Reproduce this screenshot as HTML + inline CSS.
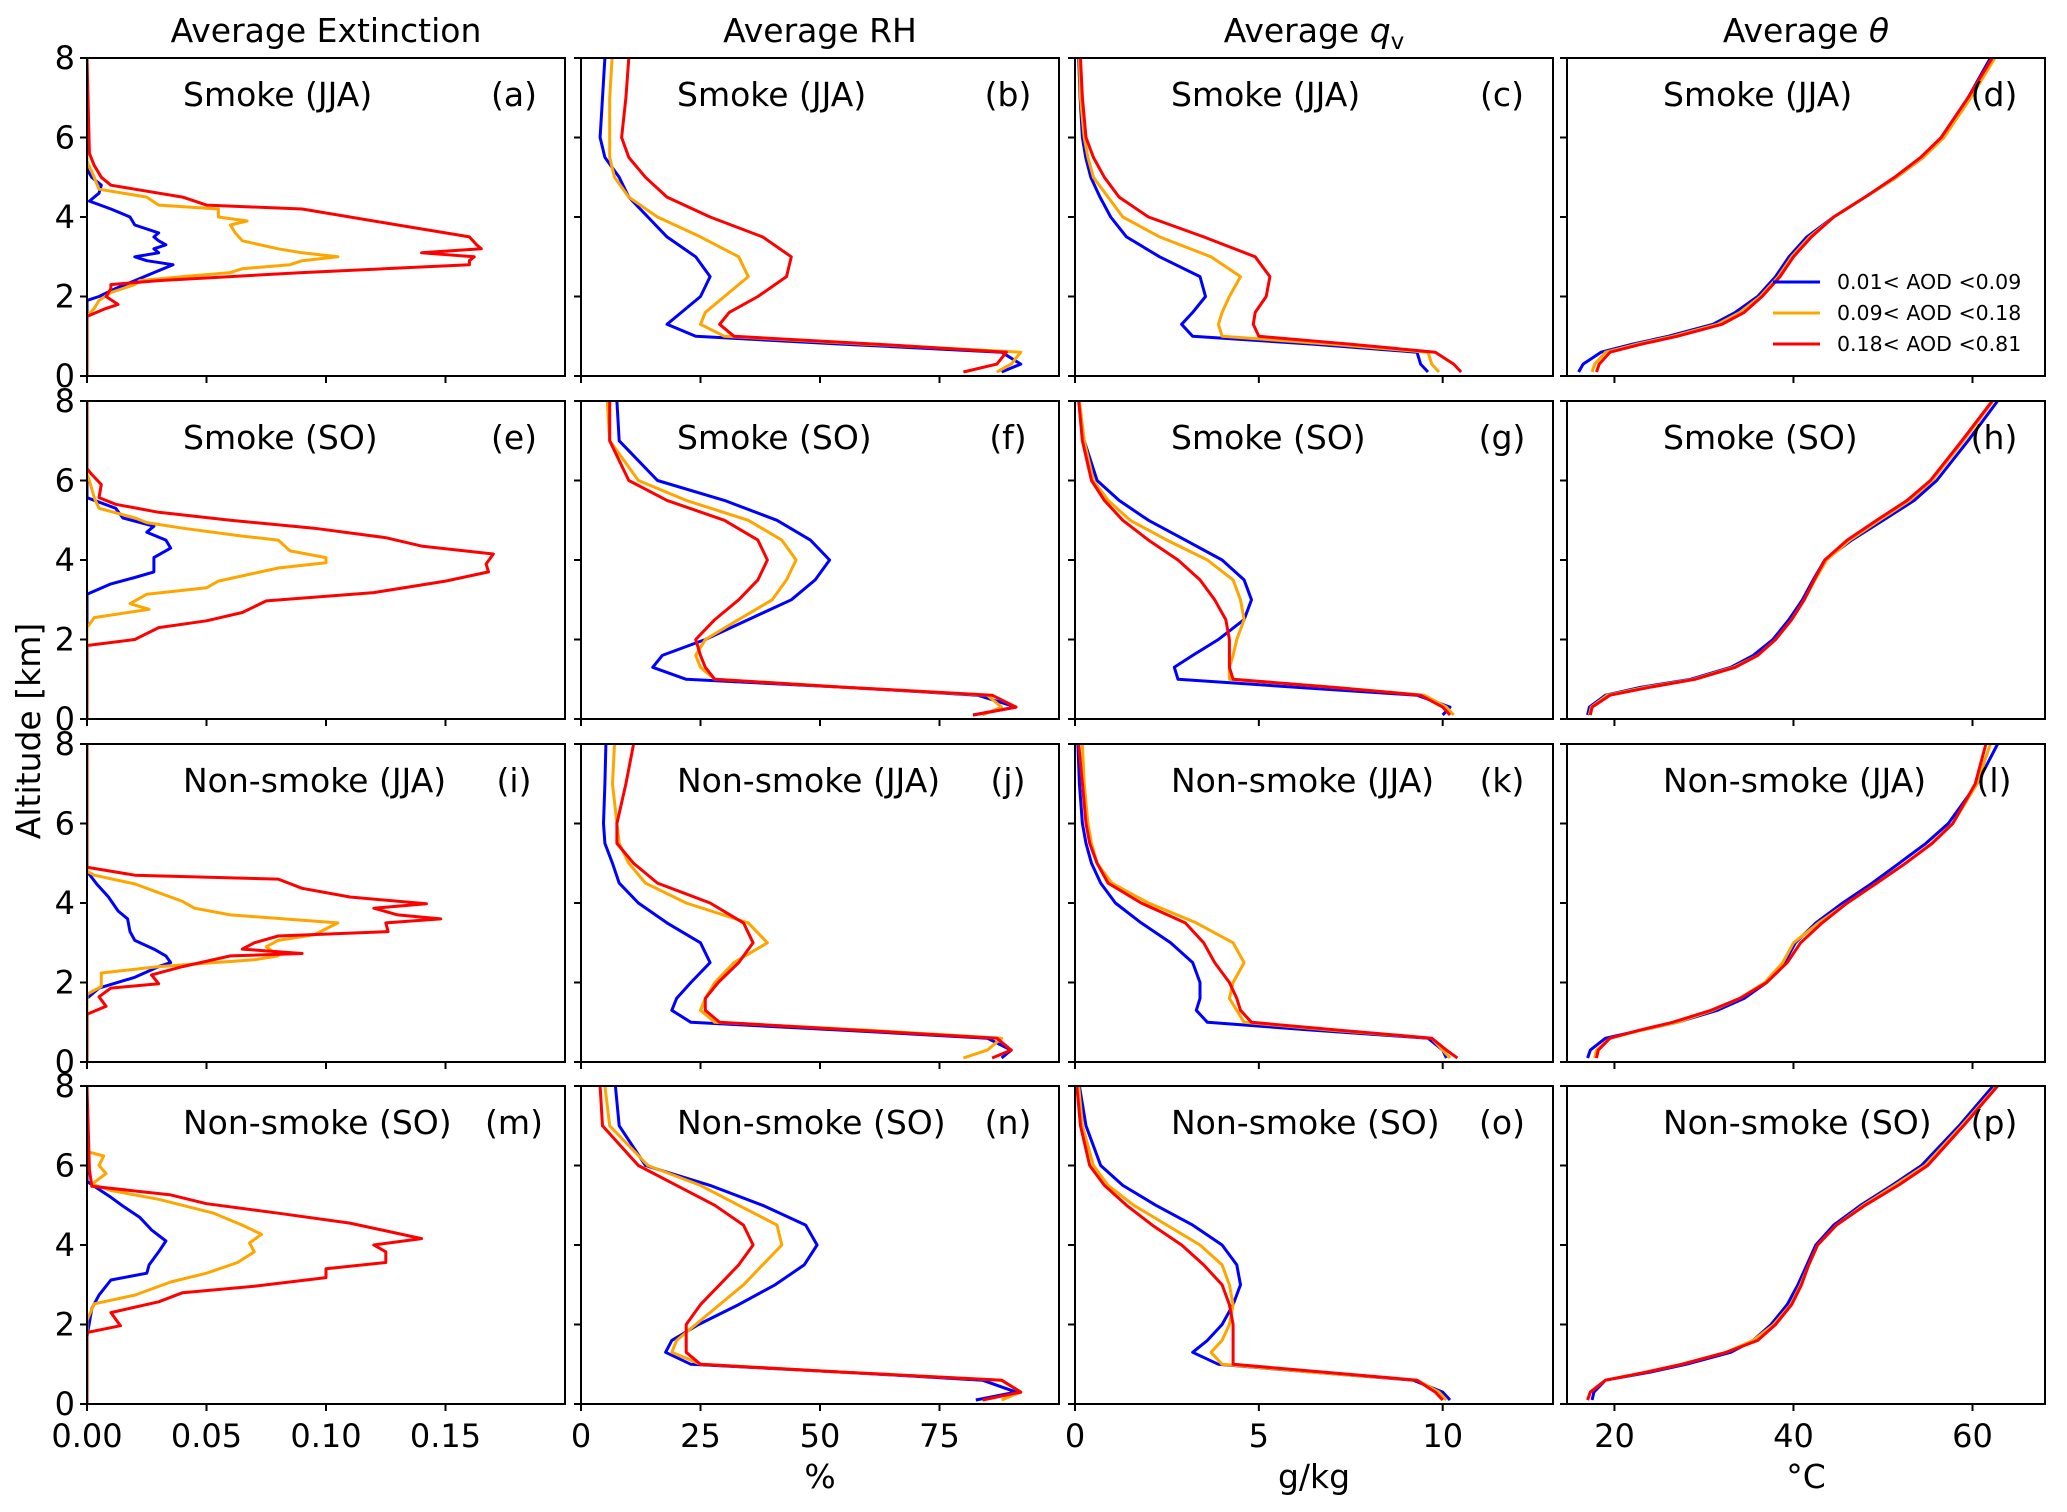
<!DOCTYPE html>
<html><head><meta charset="utf-8">
<style>
html,body{margin:0;padding:0;background:#fff;}
svg{display:block;font-family:"DejaVu Sans","Liberation Sans",sans-serif;}
</style></head>
<body>
<svg id="fig" width="2067" height="1512" viewBox="0 0 2067 1512" xmlns="http://www.w3.org/2000/svg"></svg>
<script>
// ---------- data ----------
const ALT = [0.1,0.3,0.6,0.8,1.0,1.3,1.6,2.0,2.5,3.0,3.5,4.0,4.5,5.0,5.5,6.0,7.0,8.0];
const colTitles = ["Average Extinction","Average RH","Average q_v","Average θ"];
const rowLabels = ["Smoke (JJA)","Smoke (SO)","Non-smoke (JJA)","Non-smoke (SO)"];
const panelLetters = ["a","b","c","d","e","f","g","h","i","j","k","l","m","n","o","p"];
const seriesNames = ["0.01< AOD <0.09","0.09< AOD <0.18","0.18< AOD <0.81"];
const yTicks = [0,2,4,6,8];
const xTicksExt = [0,0.05,0.10,0.15];
const xTickLabelsExt = ["0.00","0.05","0.10","0.15"];
const xTicksRH = [0,25,50,75];
const xTicksQ = [0,5,10];
const xTicksT = [20,40,60];

// Extinction profiles (own altitude arrays)
const extA_b_alt=[0,1.9,2.0,2.2,2.4,2.6,2.8,2.9,3.0,3.1,3.2,3.3,3.4,3.5,3.6,3.8,4.0,4.2,4.4,4.6,4.8,5.0,5.2,8];
const extA_b_val=[0,0,0.005,0.012,0.02,0.028,0.036,0.025,0.02,0.03,0.028,0.033,0.03,0.028,0.03,0.02,0.018,0.01,0.001,0.005,0.006,0.002,0,0];
const extA_o_alt=[0,1.5,1.7,1.9,2.1,2.3,2.4,2.5,2.6,2.7,2.8,2.9,3.0,3.1,3.2,3.4,3.6,3.8,3.9,4.0,4.2,4.3,4.5,4.7,5.0,5.4,8];
const extA_o_val=[0,0,0.003,0.005,0.01,0.02,0.022,0.04,0.06,0.065,0.085,0.09,0.105,0.09,0.08,0.065,0.062,0.06,0.067,0.055,0.055,0.03,0.025,0.005,0.003,0,0];
const extA_r_alt=[0,1.5,1.7,1.8,2.0,2.2,2.3,2.4,2.6,2.8,2.9,3.0,3.1,3.2,3.3,3.5,3.6,3.8,4.0,4.2,4.3,4.5,4.7,4.8,5.0,5.3,5.6,8];
const extA_r_val=[0,0,0.008,0.013,0.008,0.01,0.01,0.03,0.09,0.16,0.16,0.162,0.14,0.165,0.163,0.16,0.15,0.13,0.11,0.09,0.05,0.04,0.02,0.01,0.006,0.003,0.001,0];

const extE_b_alt=[0,3.14,3.4,3.56,3.7,4.06,4.3,4.5,4.7,4.85,5.06,5.3,5.57,8];
const extE_b_val=[0,0,0.01,0.02,0.028,0.028,0.035,0.033,0.025,0.028,0.015,0.012,0,0];
const extE_o_alt=[0,2.3,2.55,2.76,2.9,3.14,3.3,3.47,3.8,3.93,4.06,4.23,4.5,4.6,4.8,4.94,5.06,5.3,5.57,6.0,6.15,8];
const extE_o_val=[0,0,0.003,0.026,0.018,0.025,0.05,0.055,0.08,0.1,0.1,0.085,0.08,0.065,0.04,0.025,0.02,0.005,0.003,0.001,0,0];
const extE_r_alt=[0,1.85,2.0,2.3,2.47,2.68,2.97,3.18,3.47,3.7,3.9,4.15,4.35,4.56,4.8,5.0,5.2,5.4,5.57,5.9,6.15,6.3,8];
const extE_r_val=[0,0,0.02,0.03,0.05,0.065,0.075,0.12,0.15,0.168,0.167,0.17,0.14,0.125,0.095,0.06,0.03,0.012,0.005,0.006,0.002,0,0];

const extI_b_alt=[0,1.6,1.86,2.13,2.4,2.5,2.67,2.84,3.06,3.28,3.6,3.8,4.15,4.48,4.8,8];
const extI_b_val=[0,0,0.005,0.02,0.03,0.035,0.033,0.028,0.02,0.018,0.017,0.013,0.009,0.004,0,0];
const extI_o_alt=[0,1.7,1.9,2.24,2.4,2.57,2.67,2.9,3.06,3.2,3.5,3.7,3.87,4.04,4.26,4.48,4.7,4.8,8];
const extI_o_val=[0,0,0.006,0.006,0.03,0.07,0.08,0.075,0.08,0.095,0.105,0.06,0.045,0.04,0.03,0.02,0.003,0,0];
const extI_r_alt=[0,1.2,1.4,1.64,1.86,1.97,2.19,2.4,2.67,2.73,2.84,3.0,3.17,3.28,3.5,3.6,3.7,3.87,3.98,4.15,4.37,4.6,4.7,4.9,8];
const extI_r_val=[0,0,0.008,0.005,0.01,0.03,0.027,0.04,0.06,0.09,0.065,0.07,0.08,0.126,0.125,0.148,0.13,0.12,0.142,0.11,0.09,0.08,0.02,0,0];

const extM_b_alt=[0,1.7,2.4,2.74,3.12,3.29,3.5,3.83,4.1,4.38,4.7,4.98,5.2,5.48,5.6,8];
const extM_b_val=[0,0,0.002,0.005,0.01,0.025,0.026,0.03,0.033,0.027,0.022,0.015,0.01,0.003,0,0];
const extM_o_alt=[0,2.1,2.52,2.74,3.07,3.29,3.56,3.83,4.05,4.27,4.5,4.8,5.15,5.37,5.53,5.8,6.0,6.24,6.35,8];
const extM_o_val=[0,0,0.003,0.02,0.035,0.05,0.063,0.07,0.068,0.073,0.065,0.053,0.03,0.01,0.002,0.008,0.005,0.007,0,0];
const extM_r_alt=[0,1.8,1.97,2.3,2.57,2.8,2.96,3.18,3.4,3.56,3.83,4.0,4.16,4.55,4.8,5.04,5.26,5.48,5.9,8];
const extM_r_val=[0,0,0.014,0.01,0.03,0.04,0.07,0.1,0.1,0.125,0.125,0.12,0.14,0.11,0.08,0.05,0.035,0.002,0.001,0];

// RH (%) on ALT grid
const rhB_b=[88,92,88,55,24,18,21,25,27,24,18,14,10,8,5,4,4.5,5];
const rhB_o=[87,90,92,60,30,25,26,30,35,33,25,16,10,7,6,6,6,6.5];
const rhB_r=[80,87,89,62,32,29,31,37,43,44,38,27,18,13.5,10,8.5,9.4,10];
const rhF_b=[82,91,83,55,22,15,17,26,35,44,49,52,48,41,30,16,8,7.5];
const rhF_o=[84,88,85,55,28,25,24,26,33,40,43,45,42,35,22,12,6,5.5];
const rhF_r=[82,91,86,55,28,26,25,24,28,33,37,39,37,30,18,10,6,6];
const rhJ_b=[88,90,85,55,23,19,20,23,27,25,18,12,8,6.6,5,4.7,5,5.2];
const rhJ_o=[80,85,88,60,28,25,26,28,32,39,35,22,13.5,10,8,7.5,6.6,7];
const rhJ_r=[86,90,87,58,29,26,26,28.7,33,36,34,27,16,11,7.5,7.5,9.4,11];
const rhN_b=[82.6,91,84,55,23,17.7,19,24.6,33,40.6,46.7,49.4,47,38,27,13.5,8,7.2];
const rhN_o=[88,92,88,55,25,19,20,24,29,34,38,42,41,33,25,14,6,5];
const rhN_r=[84,92,88,55,25,22,22,22,25,29,33,36,34,28,20,12,4.5,4];

// q_v (g/kg)
const qC_b=[9.6,9.4,9.3,6.5,3.2,2.9,3.2,3.55,3.4,2.3,1.4,0.97,0.68,0.43,0.29,0.2,0.14,0.1];
const qC_o=[9.9,9.7,9.6,7,4.0,3.9,4.0,4.2,4.5,3.7,2.3,1.3,0.9,0.5,0.35,0.25,0.15,0.12];
const qC_r=[10.5,10.3,9.8,7.5,5.0,4.85,4.9,5.2,5.3,4.9,3.5,2.0,1.2,0.8,0.5,0.3,0.2,0.15];
const qG_b=[10.0,10.2,9.3,6,2.8,2.7,3.2,3.9,4.6,4.8,4.6,4.0,3.0,2.0,1.2,0.6,0.25,0.1];
const qG_o=[10.3,10.1,9.5,7,4.2,4.2,4.3,4.4,4.6,4.5,4.3,3.6,2.5,1.5,0.9,0.5,0.25,0.12];
const qG_r=[10.2,10.0,9.4,7,4.3,4.2,4.2,4.2,4.1,3.8,3.4,2.8,2.0,1.3,0.8,0.45,0.2,0.1];
const qK_b=[10.1,10.0,9.6,6.5,3.6,3.3,3.4,3.4,3.2,2.6,1.8,1.1,0.7,0.45,0.3,0.2,0.12,0.08];
const qK_o=[10.2,10.0,9.7,7,4.6,4.4,4.2,4.3,4.6,4.3,3.3,2.0,1.0,0.6,0.45,0.35,0.25,0.2];
const qK_r=[10.4,10.1,9.7,7.2,4.8,4.5,4.4,4.2,3.8,3.5,3.0,1.8,0.9,0.6,0.4,0.3,0.2,0.1];
const qO_b=[10.2,10.0,9.2,6.5,3.9,3.2,3.6,4.0,4.3,4.5,4.4,4.0,3.2,2.2,1.3,0.7,0.3,0.12];
const qO_o=[10.1,9.9,9.3,6.5,4.0,3.7,4.0,4.2,4.3,4.2,4.0,3.4,2.5,1.6,0.9,0.5,0.2,0.1];
const qO_r=[10.0,9.8,9.3,6.8,4.3,4.3,4.3,4.3,4.2,4.0,3.5,2.9,2.1,1.4,0.8,0.4,0.15,0.05];

// theta (°C)
const tD_b=[16,16.5,18.5,22,26,31,33.5,36,38,39.5,41.5,44.5,48,51.5,54.5,56.5,59.5,62];
const tD_o=[17.5,17.8,19,22.5,26.5,31.5,34,36.3,38.3,39.8,41.8,44.5,48,51.5,54.5,56.8,59.8,62.5];
const tD_r=[18,18.3,19.5,23,27,32,34.5,36.5,38.5,40,42,44.5,48,51.3,54.2,56.5,59.5,62.2];
const tH_b=[17,17.2,19,23,28.5,33,35.5,37.7,39.5,41,42.2,43.5,46.5,50,53.5,56,59.5,62.8];
const tH_o=[17.2,17.4,19.2,23.5,28.8,33.3,36,38,39.8,41.2,42.4,43.7,46.3,49.6,53,55.5,59,62.3];
const tH_r=[17.3,17.5,19.5,24,29,33.5,36,38,39.8,41.2,42.3,43.5,46,49.3,52.7,55.3,58.8,62.2];
const tL_b=[17,17.3,19,23,27,31.5,34.5,37,39,40.2,42.5,45.5,48.8,51.8,54.8,57.3,60.5,62.8];
const tL_o=[17.8,18,19.5,23,27,31,34,36.8,38.8,40,42.8,46,49.3,52.5,55.4,57.8,60.5,62];
const tL_r=[18,18.2,19.5,22.8,26.5,30.8,34,37,39.3,40.8,43.2,46,49.3,52.5,55.5,57.8,60.3,61.5];
const tP_b=[17.5,17.7,19,24,28,33,35.5,37.5,39.3,40.5,41.5,42.5,44.5,47.5,51,54.3,58.5,62.3];
const tP_o=[17,17.3,19,23.5,27.5,32.5,35.5,37.8,39.7,40.8,41.7,42.7,44.8,47.8,51.3,54.7,58.8,62.7];
const tP_r=[17,17.3,19,23.5,27.5,32.5,36,38,39.8,40.9,41.7,42.7,44.8,48,51.7,55,59,62.8];

// ---------- layout ----------
const NS="http://www.w3.org/2000/svg";
const svg=document.getElementById('fig');
const colX=[87,581,1075,1567], PW=478;
const rowY=[58,401,744,1086], PH=318;
const colors=["#0000ff","#ffa500","#ff0000"];
const xlims=[[0,0.2],[0,100],[0,13],[14.7,68.1]];

function el(tag,attrs,parent){const e=document.createElementNS(NS,tag);for(const k in attrs)e.setAttribute(k,attrs[k]);(parent||svg).appendChild(e);return e;}
function xScale(c,v){const [a,b]=xlims[c];return colX[c]+(v-a)/(b-a)*PW;}
function yScale(r,alt){return rowY[r]+PH*(1-alt/8);}

const extData=[
 [[extA_b_alt,extA_b_val],[extA_o_alt,extA_o_val],[extA_r_alt,extA_r_val]],
 [[extE_b_alt,extE_b_val],[extE_o_alt,extE_o_val],[extE_r_alt,extE_r_val]],
 [[extI_b_alt,extI_b_val],[extI_o_alt,extI_o_val],[extI_r_alt,extI_r_val]],
 [[extM_b_alt,extM_b_val],[extM_o_alt,extM_o_val],[extM_r_alt,extM_r_val]]];
const gridData=[
 [[rhB_b,rhB_o,rhB_r],[qC_b,qC_o,qC_r],[tD_b,tD_o,tD_r]],
 [[rhF_b,rhF_o,rhF_r],[qG_b,qG_o,qG_r],[tH_b,tH_o,tH_r]],
 [[rhJ_b,rhJ_o,rhJ_r],[qK_b,qK_o,qK_r],[tL_b,tL_o,tL_r]],
 [[rhN_b,rhN_o,rhN_r],[qO_b,qO_o,qO_r],[tP_b,tP_o,tP_r]]];
const xTickSets=[xTicksExt,xTicksRH,xTicksQ,xTicksT];
const xTickLabelSets=[xTickLabelsExt,xTicksRH.map(String),xTicksQ.map(String),xTicksT.map(String)];
const xLabels=["","%","g/kg","°C"];
const FS=33, TFS=32;

// column titles
for(let c=0;c<4;c++){
  const t=el('text',{x:colX[c]+PW/2,y:42,'text-anchor':'middle','font-size':FS,fill:'#000'});
  
  
  if(c===2){t.textContent='Average ';const ts=el('tspan',{'font-style':'italic'},t);ts.textContent='q';const s=el('tspan',{'font-size':23,dy:7},t);s.textContent='v';}
  else if(c===3){t.textContent='Average ';const ts=el('tspan',{'font-style':'italic'},t);ts.textContent='θ';}
  else t.textContent=colTitles[c];
}

for(let r=0;r<4;r++){
 for(let c=0;c<4;c++){
  const g=el('g',{});
  
  
  const cid='clip'+r+c;
  const cp=el('clipPath',{id:cid},g);el('rect',{x:colX[c],y:rowY[r],width:PW,height:PH},cp);
  const lines=el('g',{'clip-path':'url(#'+cid+')'},g);
  for(let s=0;s<3;s++){
    let pts=[];
    if(c===0){const [alts,vals]=extData[r][s];for(let i=0;i<alts.length;i++)pts.push(xScale(0,vals[i]).toFixed(1)+','+yScale(r,alts[i]).toFixed(1));}
    else{const vals=gridData[r][c-1][s];for(let i=0;i<ALT.length;i++)pts.push(xScale(c,vals[i]).toFixed(1)+','+yScale(r,ALT[i]).toFixed(1));}
    const pl=el('polyline',{points:pts.join(' '),fill:'none',stroke:colors[s],'stroke-width':3,'stroke-linejoin':'round'},lines);
    
    
  }
  const fr=el('rect',{x:colX[c],y:rowY[r],width:PW,height:PH,fill:'none',stroke:'#000','stroke-width':2},g);
  
  
  for(const yt of yTicks){
    const y=yScale(r,yt);
    el('line',{x1:colX[c]-7,x2:colX[c],y1:y,y2:y,stroke:'#000','stroke-width':2},g);
    if(c===0){const t=el('text',{x:colX[c]-12,y:y+11,'text-anchor':'end','font-size':TFS,fill:'#000'},g);
      
      
      t.textContent=yt;}
  }
  const xt=xTickSets[c];
  for(let i=0;i<xt.length;i++){
    const x=xScale(c,xt[i]);
    el('line',{x1:x,x2:x,y1:rowY[r]+PH,y2:rowY[r]+PH+7,stroke:'#000','stroke-width':2},g);
    if(r===3){const t=el('text',{x:x,y:rowY[r]+PH+43,'text-anchor':'middle','font-size':TFS,fill:'#000'},g);
      
      
      t.textContent=xTickLabelSets[c][i];}
  }
  const pl1=el('text',{x:colX[c]+96,y:rowY[r]+48,'font-size':FS,fill:'#000'},g);
  
  
  pl1.textContent=rowLabels[r];
  const pl2=el('text',{x:colX[c]+427,y:rowY[r]+48,'text-anchor':'middle','font-size':FS,fill:'#000'},g);
  
  
  pl2.textContent='('+panelLetters[r*4+c]+')';
 }
}
for(let c=1;c<4;c++){
  const t=el('text',{x:colX[c]+PW/2,y:1488,'text-anchor':'middle','font-size':FS,fill:'#000'});
  
  
  t.textContent=xLabels[c];
}
const yl=el('text',{x:0,y:0,'text-anchor':'middle','font-size':FS,fill:'#000',transform:'translate(40,731) rotate(-90)'});


yl.textContent='Altitude [km]';
const lg=el('g',{});


const legY=[282,313,344];
for(let s=0;s<3;s++){
  el('line',{x1:1773,x2:1820,y1:legY[s],y2:legY[s],stroke:colors[s],'stroke-width':3},lg);
  const t=el('text',{x:1837,y:legY[s]+7,'font-size':20.5,fill:'#000'},lg);
  
  
  t.textContent=seriesNames[s];
}
</script>
</body></html>
